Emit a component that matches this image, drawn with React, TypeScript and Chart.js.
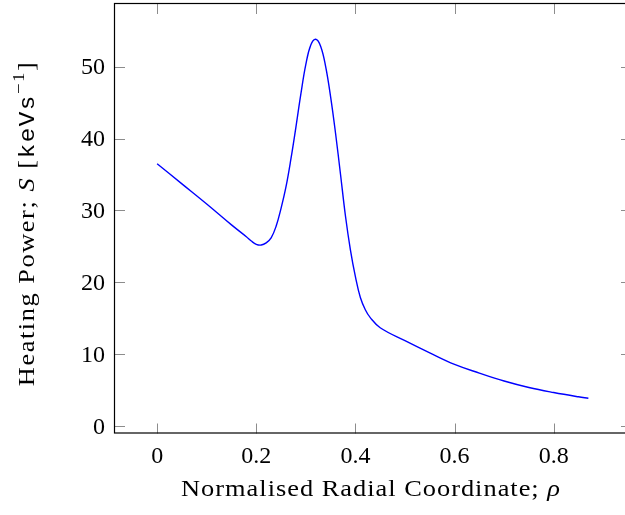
import React, { useEffect, useRef } from "react";
import { Chart, registerables } from "chart.js";

Chart.register(...registerables);

const rho = [0, 0.05, 0.1, 0.15, 0.18, 0.19, 0.2, 0.21, 0.22, 0.23, 0.24, 0.25, 0.26, 0.27, 0.28, 0.29, 0.3, 0.31, 0.32, 0.33, 0.34, 0.35, 0.36, 0.37, 0.38, 0.39, 0.4, 0.41, 0.42, 0.43, 0.45, 0.5, 0.55, 0.6, 0.65, 0.7, 0.75, 0.8, 0.85, 0.87];
const heatingPower = [36.5, 33.7, 30.9, 28.0, 26.35, 25.75, 25.3, 25.2, 25.5, 26.2, 27.8, 30.3, 33.3, 37.2, 41.6, 46.2, 50.3, 53.0, 53.8, 52.8, 50.0, 45.8, 40.7, 35.0, 29.2, 24.5, 20.8, 17.9, 16.2, 15.1, 13.7, 11.9, 10.2, 8.6, 7.4, 6.3, 5.4, 4.7, 4.1, 3.9];
const xTickValues = [0, 0.2, 0.4, 0.6, 0.8];
const yTickValues = [0, 10, 20, 30, 40, 50];

const SERIF = "'Liberation Serif', 'Times New Roman', serif";
const MONO = "'Liberation Mono', 'DejaVu Sans Mono', monospace";

const W = 640;
const H = 515;

function drawRich(ctx: CanvasRenderingContext2D, parts: [string, string, number][], spacing: number, sx: number) {
  (ctx as any).letterSpacing = `${spacing}px`;
  let total = 0;
  parts.forEach(([t, f]) => {
    ctx.font = f;
    total += ctx.measureText(t).width;
  });
  ctx.scale(sx, 1);
  let x = -total / 2;
  parts.forEach(([t, f, dy]) => {
    ctx.font = f;
    ctx.fillText(t, x, dy);
    x += ctx.measureText(t).width;
  });
}

const framePlugin = {
  id: "pgfFrame",
  afterDraw(chart: any) {
    const ctx = chart.ctx as CanvasRenderingContext2D;
    const a = chart.chartArea;
    const xs = chart.scales.x;
    const ys = chart.scales.y;
    ctx.save();
    // ticks (inward, all sides)
    ctx.strokeStyle = "#8c8c8c";
    ctx.lineWidth = 1;
    const tl = 10;
    ctx.beginPath();
    xTickValues.forEach((v) => {
      const px = Math.round(xs.getPixelForValue(v)) + 0.5;
      ctx.moveTo(px, a.bottom);
      ctx.lineTo(px, a.bottom - tl);
      ctx.moveTo(px, a.top);
      ctx.lineTo(px, a.top + tl);
    });
    yTickValues.forEach((v) => {
      const py = Math.round(ys.getPixelForValue(v)) + 0.5;
      ctx.moveTo(a.left, py);
      ctx.lineTo(a.left + tl, py);
      ctx.moveTo(a.right, py);
      ctx.lineTo(a.right - tl, py);
    });
    ctx.stroke();
    // frame
    ctx.strokeStyle = "#000";
    ctx.lineWidth = 1.2;
    ctx.strokeRect(Math.round(a.left) - 0.5, Math.round(a.top) - 0.5, a.right - a.left, a.bottom - a.top);
    // tick labels
    ctx.fillStyle = "#000";
    ctx.font = `24px ${SERIF}`;
    ctx.textAlign = "center";
    ctx.textBaseline = "alphabetic";
    xTickValues.forEach((v) => {
      const px = xs.getPixelForValue(v);
      ctx.fillText(String(v), px, 463);
    });
    ctx.textAlign = "right";
    yTickValues.forEach((v) => {
      const py = ys.getPixelForValue(v);
      ctx.fillText(String(v), 105, py + 7.8);
    });
    ctx.textAlign = "left";
    // x axis title
    ctx.save();
    ctx.translate(371, 496);
    drawRich(
      ctx,
      [
        ["Normalised Radial Coordinate; ", `24px ${SERIF}`, 0],
        ["\u03c1", `italic 24px ${SERIF}`, 0],
      ],
      0.9,
      1.1
    );
    ctx.restore();
    // y axis title (rotated)
    ctx.save();
    ctx.translate(34, 223.5);
    ctx.rotate(-Math.PI / 2);
    drawRich(
      ctx,
      [
        ["Heating Power; ", `24px ${SERIF}`, 0],
        ["S", `italic 24px ${SERIF}`, 0],
        [" [", `24px ${SERIF}`, 0],
        ["keVs", `22px ${MONO}`, 0],
        ["\u22121", `17px ${SERIF}`, -10],
        ["]", `24px ${SERIF}`, 0],
      ],
      1.4,
      1.1
    );
    ctx.restore();
    ctx.restore();
  },
};

export default function App() {
  const ref = useRef<HTMLCanvasElement | null>(null);
  useEffect(() => {
    if (!ref.current) return;
    const chart = new Chart(ref.current, {
      type: "scatter",
      data: {
        datasets: [
          {
            data: rho.map((x, i) => ({ x, y: heatingPower[i] })),
            showLine: true,
            borderColor: "#0000ff",
            backgroundColor: "#0000ff",
            borderWidth: 1.4,
            pointRadius: 0,
            tension: 0.4,
          },
        ],
      },
      options: {
        responsive: false,
        animation: false,
        devicePixelRatio: 1,
        layout: { padding: { left: 0, top: 4, right: W - 631, bottom: 0 } },
        plugins: { legend: { display: false }, tooltip: { enabled: false } },
        scales: {
          x: {
            type: "linear",
            min: -0.085,
            max: 0.956,
            grid: { display: false },
            border: { display: false },
            ticks: { display: false },
            afterBuildTicks: (s: any) => {
              s.ticks = xTickValues.map((v) => ({ value: v }));
            },
            afterFit: (s: any) => {
              s.height = H - 433.5;
            },
          },
          y: {
            type: "linear",
            min: -1.0,
            max: 58.7,
            grid: { display: false },
            border: { display: false },
            ticks: { display: false },
            afterBuildTicks: (s: any) => {
              s.ticks = yTickValues.map((v) => ({ value: v }));
            },
            afterFit: (s: any) => {
              s.width = 115;
            },
          },
        },
      },
      plugins: [framePlugin],
    } as any);
    return () => chart.destroy();
  }, []);
  return (
    <div style={{ position: "fixed", left: 0, top: 0, width: 625, height: 515, overflow: "hidden", background: "#fff" }}>
      <canvas ref={ref} width={W} height={H} style={{ width: W, height: H, display: "block" }} />
    </div>
  );
}
